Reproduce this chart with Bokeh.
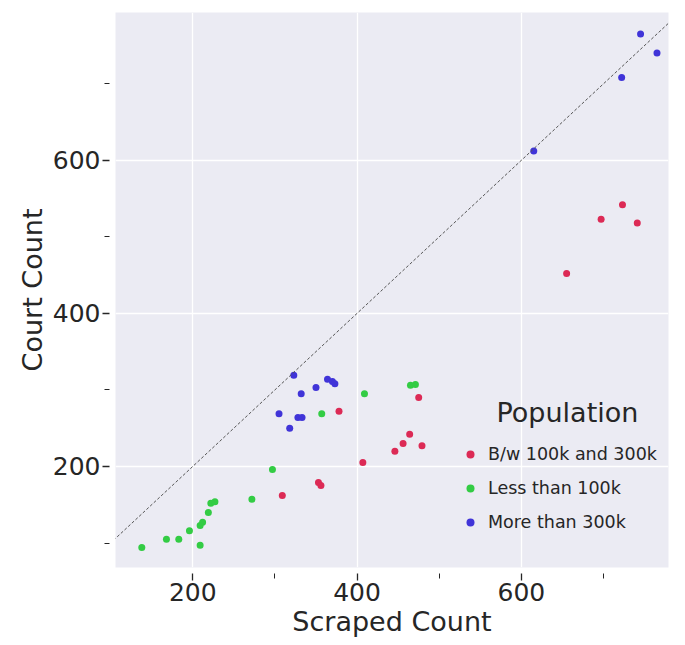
from bokeh.plotting import figure
from bokeh.models import Range1d, FixedTicker, Label, Legend, LegendItem, Slope
from bokeh.embed import file_html
from bokeh.resources import INLINE

# ---- data ----
mid_scraped = [309, 353, 356, 378, 475, 464, 456, 479, 446, 407, 723, 697, 741, 655]
mid_court   = [162, 179, 175, 272, 290, 242, 230, 227, 220, 205, 542, 523, 518, 452]

low_scraped = [297, 272, 222, 227, 219, 212, 209, 196, 183, 168, 138, 209, 357, 409, 465, 471]
low_court   = [196, 157, 152, 154, 140, 127, 123, 116, 105, 105, 94, 97, 269, 295, 306, 307]

high_scraped = [745, 765, 722, 615, 323, 332, 350, 364, 370, 373, 305, 328, 333, 318]
high_court   = [765, 740, 708, 612, 319, 295, 303, 314, 311, 308, 269, 264, 264, 250]

labels = ["B/w 100k and 300k", "Less than 100k", "More than 300k"]
colors = ["#dc2a55", "#33cc44", "#4034d8"]

major_ticks = [200, 400, 600]
minor_ticks = [100, 300, 500, 700]

FONT = "DejaVu Sans"
TXT = "#262626"

p = figure(width=685, height=645, output_backend="svg", toolbar_location=None,
           x_range=Range1d(106, 779), y_range=Range1d(68, 793),
           min_border_left=115, min_border_right=17, min_border_top=12,
           min_border_bottom=78)
p.background_fill_color = "#ebebf3"
p.border_fill_color = "white"
p.outline_line_color = None

for ax in (p.xaxis[0], p.yaxis[0]):
    ax.ticker = FixedTicker(ticks=major_ticks, minor_ticks=minor_ticks)
    ax.axis_line_color = None
    ax.major_tick_line_color = TXT
    ax.minor_tick_line_color = TXT
    ax.major_tick_line_width = 1.3
    ax.minor_tick_line_width = 1.0
    ax.major_tick_in = -6
    ax.major_tick_out = 13
    ax.minor_tick_in = -6
    ax.minor_tick_out = 11
    ax.major_label_text_font = FONT
    ax.major_label_text_font_size = "25px"
    ax.major_label_text_color = TXT
    ax.axis_label_text_font = FONT
    ax.axis_label_text_font_size = "27px"
    ax.axis_label_text_font_style = "normal"
    ax.axis_label_text_color = TXT
    ax.major_label_standoff = 2
    ax.axis_label_standoff = 2

p.xaxis.axis_label = "Scraped Count"
p.yaxis.axis_label = "Court Count"

p.xgrid.grid_line_color = "white"
p.ygrid.grid_line_color = "white"
p.xgrid.grid_line_width = 1.3
p.ygrid.grid_line_width = 1.3

# diagonal y = x
p.add_layout(Slope(gradient=1, y_intercept=0, line_color="#555555",
                   line_width=1, line_dash="3 2"))

r1 = p.scatter(mid_scraped, mid_court, size=7, color=colors[0], line_color=None)
r2 = p.scatter(low_scraped, low_court, size=7, color=colors[1], line_color=None)
r3 = p.scatter(high_scraped, high_court, size=7, color=colors[2], line_color=None)

legend = Legend(items=[LegendItem(label=labels[0], renderers=[r1]),
                       LegendItem(label=labels[1], renderers=[r2]),
                       LegendItem(label=labels[2], renderers=[r3])],
                location=(340, 25))
legend.background_fill_alpha = 0
legend.border_line_alpha = 0
legend.label_text_font = FONT
legend.label_text_font_size = "17.5px"
legend.label_text_color = TXT
legend.glyph_width = 20
legend.glyph_height = 30
legend.spacing = 4
legend.label_standoff = 8
legend.padding = 5
legend.margin = 0
p.add_layout(legend)

p.add_layout(Label(x=656, y=271, text="Population", text_align="center",
                   text_baseline="middle", text_font=FONT,
                   text_font_size="27px", text_color=TXT))

open("out.html", "w").write(file_html(p, INLINE))
